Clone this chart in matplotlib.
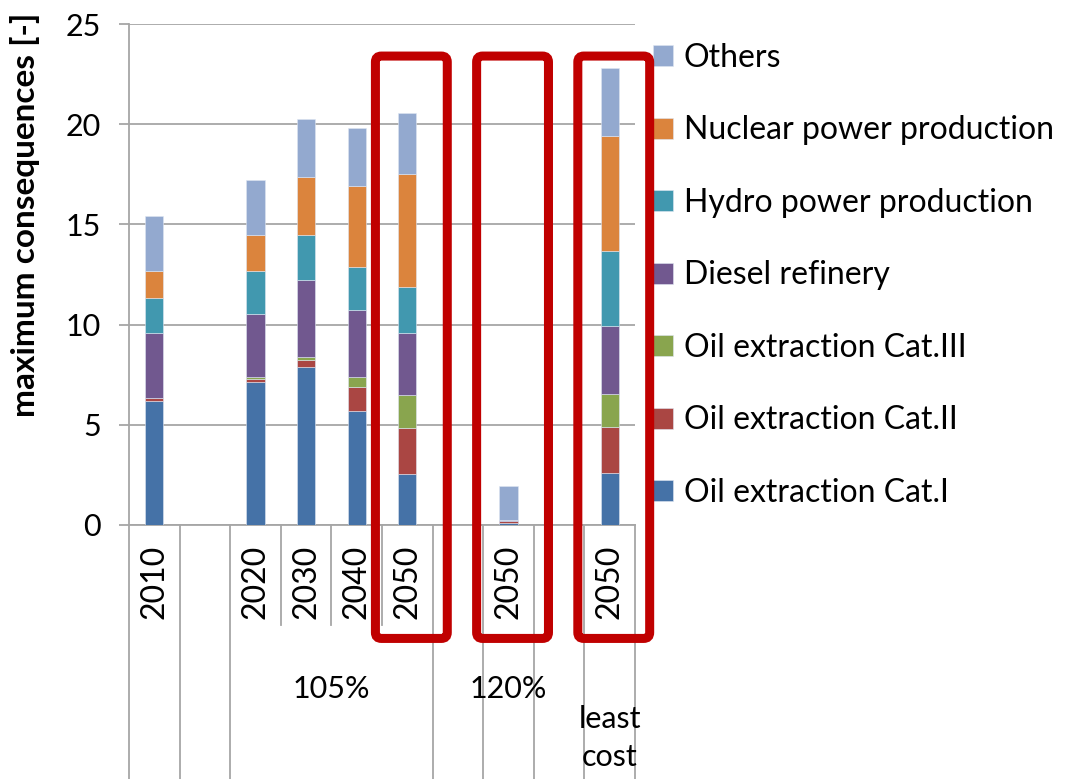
import numpy as np
import matplotlib
matplotlib.use("Agg")
import matplotlib.pyplot as plt
from matplotlib.patches import FancyBboxPatch, Patch
from matplotlib.transforms import blended_transform_factory, IdentityTransform

plt.rcParams['font.family'] = ['Lato', 'DejaVu Sans']

# category slots (blank slots are gaps in the original Excel chart)
year_labels = ['2010', '', '2020', '2030', '2040', '2050', '', '2050', '', '2050']
groups = [('', 1), ('', 1), ('105%', 4), ('', 1), ('120%', 1), ('', 1), ('least\ncost', 1)]

series_names = ['Oil extraction Cat.I', 'Oil extraction Cat.II', 'Oil extraction Cat.III',
                'Diesel refinery', 'Hydro power production', 'Nuclear power production', 'Others']

cat1   = [6.20, 0, 7.13, 7.90, 5.70, 2.56, 0, 0.08, 0, 2.61]
cat2   = [0.15, 0, 0.17, 0.35, 1.21, 2.29, 0, 0.10, 0, 2.29]
cat3   = [0.00, 0, 0.09, 0.13, 0.48, 1.63, 0, 0.00, 0, 1.66]
diesel = [3.25, 0, 3.14, 3.85, 3.35, 3.12, 0, 0.05, 0, 3.35]
hydro  = [1.72, 0, 2.13, 2.24, 2.15, 2.29, 0, 0.00, 0, 3.77]
nuclear = [1.34, 0, 1.81, 2.90, 4.05, 5.62, 0, 0.00, 0, 5.72]
others = [2.77, 0, 2.75, 2.89, 2.87, 3.04, 0, 1.70, 0, 3.42]

# the three boxed 2050 bars
highlight_slots = [5, 7, 9]

colors = ['#4572A7', '#AA4643', '#89A54E', '#71588F', '#4198AF', '#DB843D', '#93A9CF']

fig = plt.figure(figsize=(10.66, 7.79), dpi=100)
ax = fig.add_axes([129 / 1066, 1 - 525 / 779, (635 - 129) / 1066, (525 - 24) / 779])

x = np.arange(len(year_labels))
bottom = np.zeros(len(x))
for vals, c, name in zip([cat1, cat2, cat3, diesel, hydro, nuclear, others], colors, series_names):
    ax.bar(x, vals, 0.36, bottom=bottom, color=c, edgecolor='#dfe6f2', linewidth=0.4,
           label=name, zorder=3)
    bottom += np.array(vals)

grid_c = '#a6a6a6'
fs = 22
ax.set_xlim(-0.5, len(x) - 0.5)
ax.set_ylim(0, 25)
ax.set_yticks(np.arange(0, 26, 5))
ax.yaxis.grid(True, color=grid_c, linewidth=1.3, zorder=0)
ax.set_xticks([])
for s in ['top', 'right']:
    ax.spines[s].set_visible(False)
for s in ['left', 'bottom']:
    ax.spines[s].set_color(grid_c)
    ax.spines[s].set_linewidth(1.3)
ax.tick_params(axis='y', direction='out', length=7, width=1.3, color=grid_c,
               labelsize=fs, pad=13)
ax.set_ylabel('maximum consequences [-]', fontsize=24, fontweight='bold')
ax.yaxis.set_label_coords(-0.175, 0.62)

# multi level category axis
tr = blended_transform_factory(ax.transData, ax.transAxes)
for i, lab in enumerate(year_labels):
    if lab:
        ax.text(i, -0.113, lab, rotation=90, ha='center', va='center', fontsize=23,
                transform=tr)

edges = [-0.5]
pos = -0.5
for lab, n in groups:
    # short lines inside a group
    for k in range(1, n):
        ax.plot([pos + k, pos + k], [0, -0.2], color=grid_c, lw=1.3, transform=tr,
                clip_on=False)
    mid = pos + n / 2
    if lab:
        if '\n' in lab:
            ax.text(mid, -0.425, lab, ha='center', va='center', fontsize=fs,
                    linespacing=1.4, transform=tr)
        else:
            ax.text(mid, -0.328, lab, ha='center', va='center', fontsize=fs, transform=tr)
    pos += n
    edges.append(pos)
for e in edges:
    ax.plot([e, e], [0, -0.507], color=grid_c, lw=1.3, transform=tr, clip_on=False)

# red highlight boxes
fig.canvas.draw()
for s in highlight_slots:
    (x0, y0) = ax.transData.transform((s - 0.63, -5.66))
    (x1, y1) = ax.transData.transform((s + 0.79, 23.4))
    box = FancyBboxPatch((x0, y0), x1 - x0, y1 - y0,
                         boxstyle='round,pad=0,rounding_size=6',
                         transform=IdentityTransform(), fill=False,
                         edgecolor='#C00000', linewidth=6.5, zorder=10)
    fig.patches.append(box)

handles = [Patch(facecolor=c, edgecolor='#dfe6f2', linewidth=0.4) for c in colors]
fig.legend(handles[::-1], series_names[::-1], loc='upper left',
           bbox_to_anchor=(653 / 1066, 1 - 43 / 779), frameon=False, fontsize=23,
           handlelength=0.62, handleheight=0.62, handletextpad=0.35,
           labelspacing=1.33, borderpad=0, borderaxespad=0)

fig.savefig('out.png', dpi=100)
